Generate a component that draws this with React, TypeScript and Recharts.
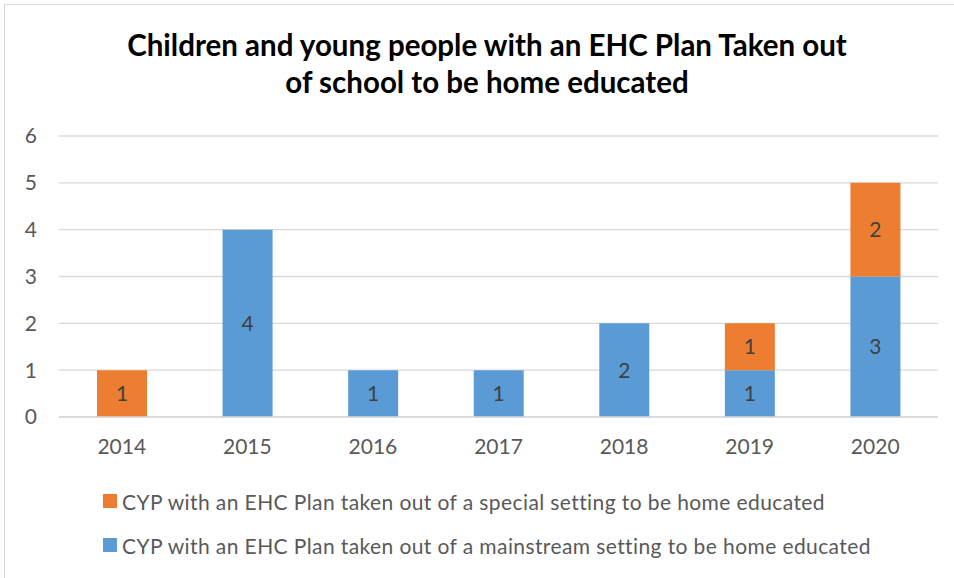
import { BarChart, Bar, XAxis, YAxis, CartesianGrid, LabelList, Legend } from 'recharts';

const years = ['2014', '2015', '2016', '2017', '2018', '2019', '2020'];
const mainstream = [0, 4, 1, 1, 2, 1, 3];
const special = [1, 0, 0, 0, 0, 1, 2];
const yTicks = [0, 1, 2, 3, 4, 5, 6];

const titleLines = [
  'Children and young people with an EHC Plan Taken out',
  'of school to be home educated',
];
const mainstreamName = 'CYP with an EHC Plan taken out of a mainstream setting to be home educated';
const specialName = 'CYP with an EHC Plan taken out of a special setting to be home educated';

const BLUE = '#5B9BD5';
const ORANGE = '#ED7D31';
const FONT = 'Lato, "Open Sans", sans-serif';

const data = years.map((year, i) => ({
  year,
  mainstream: mainstream[i],
  special: special[i],
}));

const hideZero = (v: unknown) => (v ? String(v) : '');

function LegendBox() {
  const items = [
    { name: specialName, color: ORANGE },
    { name: mainstreamName, color: BLUE },
  ];
  return (
    <div style={{ fontFamily: FONT, fontSize: 21, letterSpacing: 0.4, color: '#595959' }}>
      {items.map((it) => (
        <div key={it.name} style={{ display: 'flex', alignItems: 'center', height: 44 }}>
          <span style={{ width: 14, height: 14, background: it.color, marginRight: 5 }} />
          <span>{it.name}</span>
        </div>
      ))}
    </div>
  );
}

export default function App() {
  return (
    <div style={{ position: 'absolute', left: 0, top: 0, width: 954, height: 578, overflow: 'hidden', background: '#fff' }}>
      <div
        style={{
          position: 'absolute',
          left: 4,
          top: 4,
          width: 980,
          height: 600,
          border: '1px solid #d9d9d9',
        }}
      />
      <div
        style={{
          position: 'absolute',
          left: 0,
          top: 26,
          width: 974,
          textAlign: 'center',
          fontFamily: FONT,
          fontWeight: 700,
          fontSize: 29.5,
          lineHeight: '37px',
          color: '#000',
        }}
      >
        {titleLines.map((l) => (
          <div key={l}>{l}</div>
        ))}
      </div>
      <div style={{ position: 'absolute', left: 0, top: 0 }}>
        <BarChart
          width={954}
          height={578}
          data={data}
          margin={{ top: 136, right: 16, left: 0, bottom: 31 }}
          barSize={50}
        >
          <CartesianGrid vertical={false} stroke="#d9d9d9" strokeWidth={1.3} />
          <XAxis
            dataKey="year"
            axisLine={{ stroke: '#d9d9d9', strokeWidth: 1.3 }}
            tickLine={false}
            tickMargin={16}
            height={30}
            tick={{ fill: '#595959', fontSize: 21, fontFamily: FONT }}
          />
          <YAxis
            width={59}
            domain={[0, 6]}
            ticks={yTicks}
            axisLine={false}
            tickLine={false}
            tickMargin={16}
            tick={{ fill: '#595959', fontSize: 21, fontFamily: FONT }}
          />
          <Legend
            verticalAlign="bottom"
            content={() => <LegendBox />}
            wrapperStyle={{ left: 103, top: 479, width: 840, height: 100 }}
          />
          <Bar dataKey="mainstream" name={mainstreamName} stackId="a" fill={BLUE} isAnimationActive={false}>
            <LabelList dataKey="mainstream" position="center" formatter={hideZero} fill="#404040" fontSize={21} fontFamily={FONT} />
          </Bar>
          <Bar dataKey="special" name={specialName} stackId="a" fill={ORANGE} isAnimationActive={false}>
            <LabelList dataKey="special" position="center" formatter={hideZero} fill="#404040" fontSize={21} fontFamily={FONT} />
          </Bar>
        </BarChart>
      </div>
    </div>
  );
}
